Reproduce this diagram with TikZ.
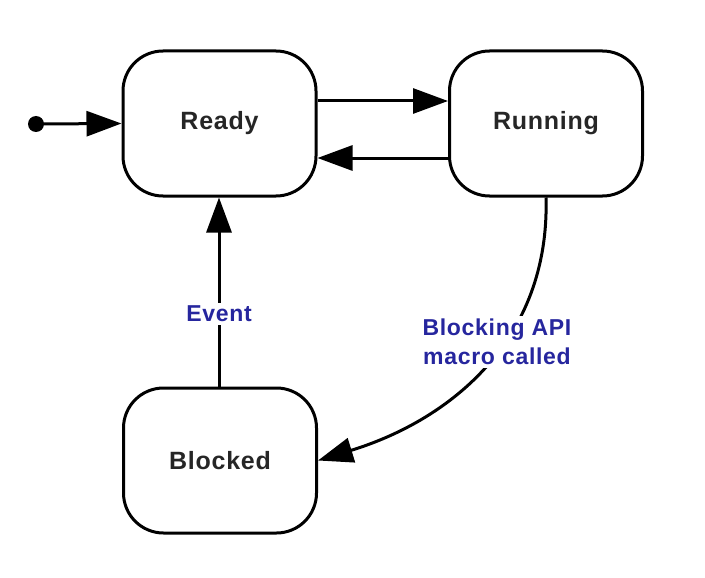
\documentclass[tikz,border=0pt]{standalone}
\usepackage{fontspec}
\setmainfont{Liberation Sans}
\newfontfamily\spacedsans[LetterSpace=3]{Liberation Sans}
\usetikzlibrary{arrows.meta}
\definecolor{lblblue}{RGB}{38,38,158}
\tikzset{
  state/.style={draw=black, line width=3pt, rounded corners=40pt, minimum width=193pt, minimum height=145pt, font=\spacedsans\fontsize{25}{29}\selectfont\bfseries, text=black!85, inner sep=0pt},
  trans/.style={line width=3pt, -{Triangle[length=35pt,width=25pt]}},
  lbl/.style={fill=white, text=lblblue, font=\spacedsans\fontsize{23}{29}\selectfont\bfseries, align=center, inner sep=3pt}
}
\begin{document}
\begin{tikzpicture}[x=1pt,y=-1pt]
\useasboundingbox (0,0) rectangle (705,578);
\node[state] (ready) at (219.5,123.5) {Ready};
\node[state] (running) at (546,123.5) {Running};
\node[state] (blocked) at (220,460.5) {Blocked};
\fill (36,124) circle (8pt);
\coordinate (init) at (36,124);
\draw[trans] (init) -- (ready.west);
\draw[trans] ([yshift=22.5pt]ready.east) -- ([yshift=22.5pt]running.west);
\draw[trans] ([yshift=-34.5pt]running.west) -- ([yshift=-34.5pt]ready.east);
\draw[trans] (blocked.north -| 219,0) -- (ready.south -| 219,0);
\draw[trans] (running.south) .. controls (550,340) and (450,420) .. (blocked.east);
\node[lbl] (ev) at (219,314) {Event};
\node[lbl] (blk) at (497,342) {Blocking API\\macro called};
\end{tikzpicture}
\end{document}
